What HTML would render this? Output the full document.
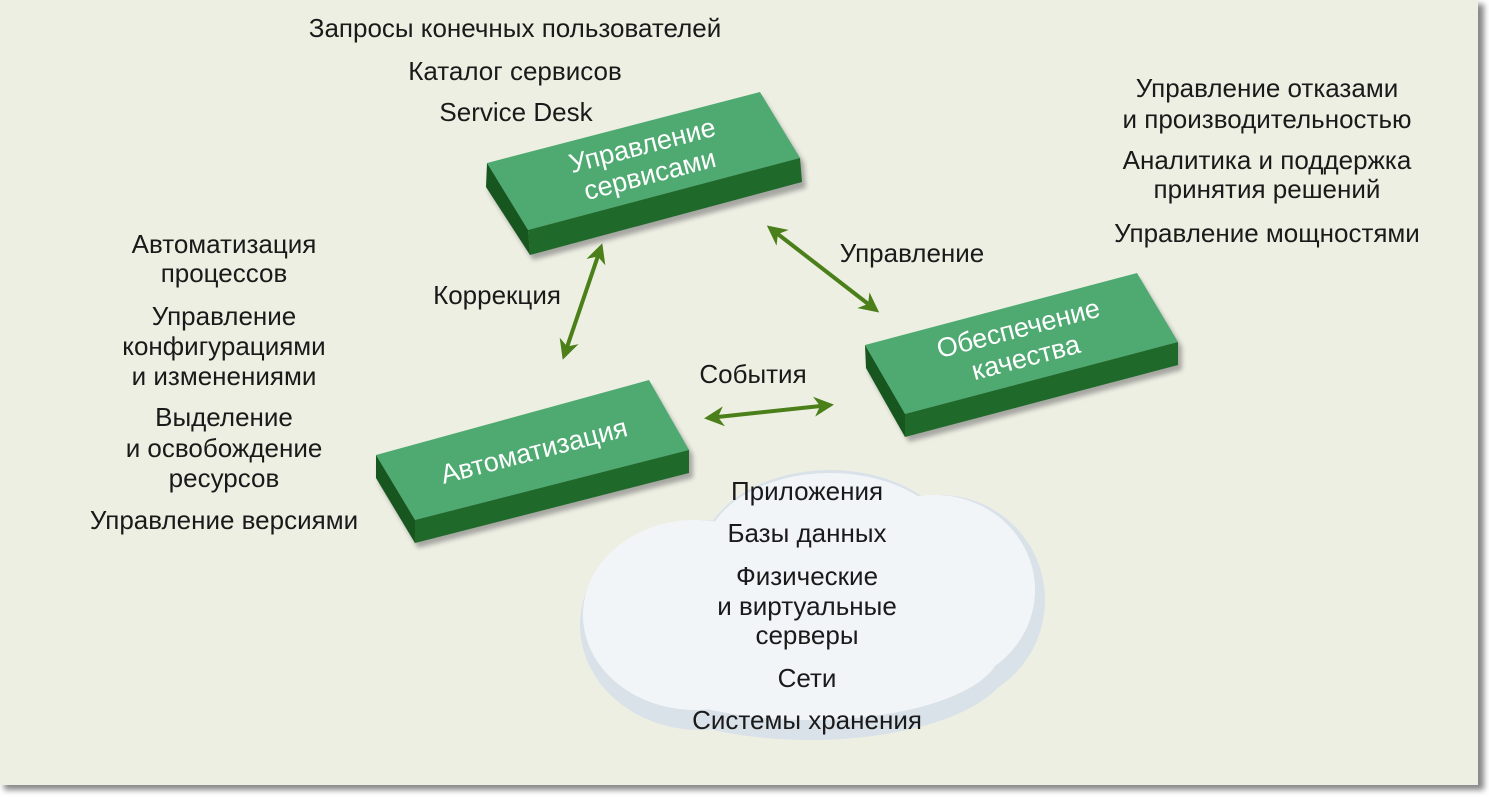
<!DOCTYPE html>
<html><head><meta charset="utf-8"><style>
html,body{margin:0;padding:0;background:#fff}
svg{display:block}
text{font-family:"Liberation Sans Narrow","Liberation Sans",sans-serif;font-size:26px;fill:#1a1a1a;text-anchor:middle;dominant-baseline:central}
.w{fill:#fff;font-size:27px}
</style></head><body>
<svg width="1489" height="797" viewBox="0 0 1489 797" xmlns="http://www.w3.org/2000/svg">
<defs>
<filter id="sh" x="-5%" y="-5%" width="110%" height="110%"><feGaussianBlur stdDeviation="3"/></filter>
<filter id="bs" x="-10%" y="-10%" width="130%" height="140%"><feGaussianBlur stdDeviation="2.5"/></filter>
<marker id="ah" viewBox="0 0 10 10" refX="8" refY="5" markerWidth="5" markerHeight="5" orient="auto-start-reverse"><path d="M0,0 L10,5 L0,10 L3,5 z" fill="#4a7f1a"/></marker>
</defs>
<rect x="0" y="0" width="1489" height="797" fill="#fff"/>
<rect x="4" y="4" width="1480" height="786" fill="#888" filter="url(#sh)"/>
<rect x="0" y="0" width="1478" height="785" fill="#eeefe3"/>

<!-- cloud -->
<g>
<g fill="#d9e1e9">
<ellipse cx="700" cy="625" rx="120" ry="105"/>
<ellipse cx="830" cy="560" rx="130" ry="90"/>
<ellipse cx="940" cy="600" rx="105" ry="105"/>
<ellipse cx="810" cy="660" rx="200" ry="80"/>
</g>
<g fill="#f2f5f8">
<ellipse cx="695" cy="615" rx="112" ry="95"/>
<ellipse cx="830" cy="553" rx="125" ry="80"/>
<ellipse cx="935" cy="590" rx="100" ry="95"/>
<ellipse cx="810" cy="650" rx="190" ry="70"/>
</g>
</g>

<!-- arrows -->
<g stroke="#4a7f1a" stroke-width="4" fill="none" marker-start="url(#ah)" marker-end="url(#ah)">
<line x1="564" y1="356" x2="601" y2="247"/>
<line x1="770" y1="228" x2="876" y2="310"/>
<line x1="708" y1="418" x2="830" y2="405"/>
</g>

<!-- boxes -->
<g filter="url(#bs)" fill="#777" opacity="0.6">
<polygon points="490,168 762,97 804,163 806,188 533,260 489,192"/>
<polygon points="868,350 1139,278 1182,347 1182,370 909,442 869,373"/>
<polygon points="379,460 651,385 693,455 693,478 418,548 379,483"/>
</g>
<g>
<polygon points="487,163 760,92 800,158 528,230" fill="#4faa72"/>
<polygon points="528,230 800,158 802,182 530,255" fill="#1f6a2a"/>
<polygon points="487,163 528,230 530,255 486,187" fill="#17561f"/>
<polygon points="865,345 1137,273 1178,342 905,414" fill="#4faa72"/>
<polygon points="905,414 1178,342 1178,365 905,437" fill="#1f6a2a"/>
<polygon points="865,345 905,414 905,437 866,368" fill="#17561f"/>
<polygon points="376,455 649,380 689,450 415,520" fill="#4faa72"/>
<polygon points="415,520 689,450 689,473 415,543" fill="#1f6a2a"/>
<polygon points="376,455 415,520 415,543 376,478" fill="#17561f"/>
</g>
<g transform="translate(646,160) rotate(-14.6)"><text class="w" x="0" y="-15">Управление</text><text class="w" x="0" y="15">сервисами</text></g>
<g transform="translate(1022,343) rotate(-14.6)"><text class="w" x="0" y="-15">Обеспечение</text><text class="w" x="0" y="15">качества</text></g>
<g transform="translate(534,451) rotate(-14.6)"><text class="w" x="0" y="0">Автоматизация</text></g>

<!-- labels -->
<text x="515" y="28">Запросы конечных пользователей</text>
<text x="515" y="71">Каталог сервисов</text>
<text x="516" y="112">Service Desk</text>

<text x="1267" y="88">Управление отказами</text>
<text x="1267" y="119">и производительностью</text>
<text x="1267" y="160">Аналитика и поддержка</text>
<text x="1267" y="189">принятия решений</text>
<text x="1267" y="233">Управление мощностями</text>

<text x="224" y="244">Автоматизация</text>
<text x="224" y="273">процессов</text>
<text x="224" y="316">Управление</text>
<text x="224" y="346">конфигурациями</text>
<text x="224" y="376">и изменениями</text>
<text x="224" y="417">Выделение</text>
<text x="224" y="448">и освобождение</text>
<text x="224" y="478">ресурсов</text>
<text x="224" y="520">Управление версиями</text>

<text x="497" y="295">Коррекция</text>
<text x="912" y="253">Управление</text>
<text x="753" y="374">События</text>

<text x="807" y="491">Приложения</text>
<text x="807" y="533">Базы данных</text>
<text x="807" y="576">Физические</text>
<text x="807" y="606">и виртуальные</text>
<text x="807" y="635">серверы</text>
<text x="807" y="678">Сети</text>
<text x="807" y="720">Системы хранения</text>
</svg>
</body></html>
